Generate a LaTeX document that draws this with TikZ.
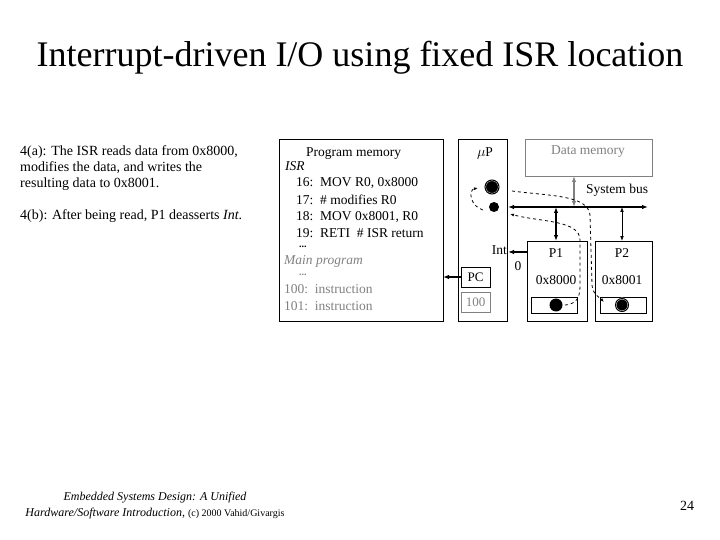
\documentclass[tikz,border=0pt]{standalone}
\usepackage{fontspec}
\setmainfont{Liberation Serif}
\usetikzlibrary{arrows.meta}
\begin{document}
\begin{tikzpicture}[x=1pt,y=-1pt,
  box/.style={draw,line width=0.6pt},
  gbox/.style={draw=gray,line width=0.6pt},
  t/.style={inner sep=0,anchor=west,font=\fontsize{13.5}{15}\selectfont},
  dots/.style={inner sep=0,anchor=west,font=\fontsize{10}{10}\selectfont},
  bus/.style={line width=1.3pt,{Latex[length=6pt]}-{Latex[length=6pt]}},
  dsh/.style={dashed,line width=0.8pt}]
\useasboundingbox (0,0) rectangle (720,540);
\node[font=\fontsize{36}{40}\selectfont] (title) at (360,58) {Interrupt-driven I/O using fixed ISR location};
\node[t,align=left,anchor=west,font=\fontsize{14}{16}\selectfont] (desc1) at (20,168) {4(a): The ISR reads data from 0x8000,\\modifies the data, and writes the\\resulting data to 0x8001.};
\node[t,anchor=west,font=\fontsize{14}{16}\selectfont] (desc2) at (20,216) {4(b): After being read, P1 deasserts \textit{Int}.};
% program memory
\draw[box] (279,139) rectangle (443,321);
\node[t] (pmt) at (306,154) {Program memory};
\node[t] (isr) at (285,166) {\textit{ISR}};
\node[t] (l16) at (296,183) {16:\ \ MOV R0, 0x8000};
\node[t] (l17) at (296,200) {17:\ \ \# modifies R0};
\node[t] (l18) at (296,217) {18:\ \ MOV 0x8001, R0};
\node[t] (l19) at (296,233) {19:\ \ RETI\ \ \# ISR return};
\node[dots] (d1) at (299,247) {\textbf{...}};
\node[t,gray] (mp) at (284,261) {\textit{Main program}};
\node[dots,gray] (d2) at (299,275) {\textbf{...}};
\node[t,gray] (l100) at (284,289) {100:\ \ instruction};
\node[t,gray] (l101) at (284,306) {101:\ \ instruction};
% uP
\draw[box] (458,139) rectangle (507,321);
\node[t,anchor=center] (up) at (485,153) {$\mu$P};
\node[box,minimum width=29pt,minimum height=20pt,inner sep=0,font=\fontsize{13}{15}\selectfont] (pc) at (475.5,277) {PC};
\node[gbox,gray,minimum width=29pt,minimum height=20pt,inner sep=0,font=\fontsize{13}{15}\selectfont] (hund) at (475.5,302) {100};
\coordinate (pmr) at (443,277);
\draw[line width=1.2pt,-{Latex[length=6pt]}] (pc) -- (pmr);
\node[circle,fill=black,draw=white,double=black,double distance=1pt,minimum size=14pt,inner sep=0] (big) at (492,187) {};
\node[circle,fill=black,minimum size=10pt,inner sep=0] (small) at (494,207) {};
% data memory
\node[gbox,gray,minimum width=127pt,minimum height=37pt,anchor=north west,inner sep=0] (dm) at (525,139) {};
\node[t,gray,anchor=center] (dmt) at (588,152) {Data memory};
% bus
\coordinate (busL) at (508,207);
\coordinate (busR) at (648,207);
\draw[bus] (busL) -- (busR);
\node[t] (sb) at (586,190) {System bus};
\coordinate (dmb) at (574,176);
\coordinate (dmbb) at (574,207);
\draw[gray,line width=1.5pt,{Latex[length=6pt]}-{Latex[length=6pt]}] (dmb) -- (dmbb);
% P1, P2
\draw[box] (527,241) rectangle (587,321);
\draw[box] (595,241) rectangle (652,321);
\node[t,anchor=center] (p1) at (556,253) {P1};
\node[t,anchor=center] (p2) at (622,253) {P2};
\node[t,anchor=center] (a1) at (556,280) {0x8000};
\node[t,anchor=center] (a2) at (622,280) {0x8001};
\draw[box] (531,297) rectangle (577,313);
\draw[box] (600,297) rectangle (646,313);
\node[circle,fill=black,minimum size=13pt,inner sep=0] (p1dot) at (556,305) {};
\node[circle,fill=black,draw=white,double=black,double distance=1pt,minimum size=13pt,inner sep=0] (p2dot) at (622,305) {};
\coordinate (p1b) at (556,207); \coordinate (p1t) at (556,241);
\coordinate (p2b) at (622,207); \coordinate (p2t) at (622,241);
\draw[line width=1.3pt,{Latex[length=6pt]}-{Latex[length=6pt]}] (p1b) -- (p1t);
\draw[line width=0.8pt,{Latex[length=5pt]}-{Latex[length=5pt]}] (p2b) -- (p2t);
% Int
\coordinate (intL) at (508,252); \coordinate (intR) at (527,252);
\draw[line width=1.2pt,-{Latex[length=6pt]}] (intR) -- (intL);
\node[t,anchor=east] (int) at (507,250) {Int};
\node[t,anchor=center] (zero) at (518,266) {0};
% dashed paths
\draw[dsh,-{Latex[length=4pt]}] (small.west) ++(-6,3) .. controls (470,206) and (468,190) .. (478,188);
\coordinate (s1) at (512,191);
\coordinate (e2) at (604,302);
\draw[dsh,-{Latex[length=4pt]}] (s1) .. controls (550,196) and (588,195) .. (590,215) -- (592,285) .. controls (593,295) and (598,296) .. (e2);
\coordinate (s3) at (565,305);
\coordinate (e3) at (510,214);
\draw[dsh,-{Latex[length=4pt]}] (s3) .. controls (582,304) and (580,290) .. (580,275) -- (580,240) .. controls (580,220) and (540,222) .. (e3);
% footer
\node[font=\fontsize{12}{16}\selectfont\itshape,align=center] (foot) at (155,506) {Embedded Systems Design: A Unified\\Hardware/Software Introduction, {\upshape\fontsize{10}{13}\selectfont (c) 2000 Vahid/Givargis}};
\node[font=\fontsize{14}{16}\selectfont] (pg) at (687,506) {24};
\end{tikzpicture}
\end{document}
